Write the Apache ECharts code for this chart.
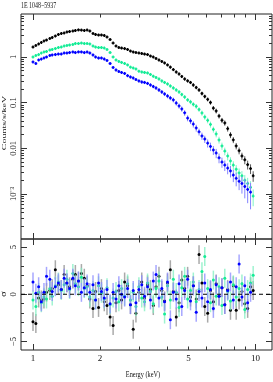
<!DOCTYPE html>
<html><head><meta charset="utf-8">
<script src="https://cdn.jsdelivr.net/npm/echarts@6/dist/echarts.min.js"></script>
<style>html,body{margin:0;padding:0;background:#fff}#c{width:273px;height:382px}</style>
</head><body><div id="c"></div>
<script>
// ---------------- data ----------------
const energy = [1.00,1.03,1.06,1.09,1.12,1.15,1.19,1.22,1.26,1.30,
  1.34,1.38,1.42,1.46,1.51,1.55,1.60,1.65,1.70,1.75,
  1.80,1.86,1.91,1.97,2.03,2.09,2.15,2.22,2.29,2.36,
  2.43,2.50,2.58,2.66,2.74,2.82,2.90,2.99,3.08,3.17,
  3.27,3.37,3.47,3.57,3.68,3.79,3.90,4.02,4.14,4.27,
  4.40,4.53,4.66,4.80,4.95,5.10,5.25,5.41,5.57,5.74,
  5.91,6.09,6.27,6.46,6.65,6.85,7.06,7.27,7.49,7.71,
  7.94,8.18,8.43,8.68,8.94,9.21,9.49,9.75];

const blackCounts = [1.65,1.79,1.93,2.08,2.24,2.35,2.54,2.67,2.88,3.11,
  3.27,3.35,3.52,3.61,3.70,3.80,3.92,3.88,3.80,3.90,
  3.70,3.27,3.11,3.03,3.03,2.96,2.74,2.41,2.02,1.74,
  1.61,1.57,1.53,1.46,1.35,1.29,1.25,1.22,1.19,1.16,
  1.13,1.05,1.00,0.93,0.86,0.80,0.74,0.67,0.60,0.53,
  0.47,0.425,0.375,0.33,0.30,0.277,0.244,0.215,0.19,0.159,
  0.137,0.118,0.101,0.076,0.066,0.051,0.041,0.036,0.027,0.0197,
  0.0153,0.0113,0.0089,0.0068,0.0056,0.0044,0.0036,0.0025];

const greenCounts = [1.00,1.08,1.13,1.22,1.29,1.32,1.42,1.46,1.53,1.61,
  1.65,1.74,1.79,1.83,1.88,1.97,1.97,2.02,1.97,1.97,
  1.93,1.74,1.65,1.61,1.61,1.57,1.46,1.25,1.00,0.86,
  0.80,0.76,0.72,0.67,0.60,0.574,0.547,0.49,0.47,0.458,
  0.447,0.415,0.38,0.356,0.33,0.30,0.277,0.257,0.232,0.21,
  0.19,0.172,0.151,0.133,0.115,0.104,0.092,0.083,0.071,0.0595,
  0.0488,0.041,0.0334,0.026,0.0207,0.0153,0.0113,0.0087,0.0068,0.0053,
  0.0043,0.0035,0.0029,0.0025,0.0020,0.0017,0.0014,0.0009];

const blueCounts = [0.78,0.72,0.86,0.90,0.95,1.00,1.08,1.11,1.13,1.16,
  1.16,1.22,1.22,1.25,1.29,1.25,1.29,1.29,1.25,1.29,
  1.22,1.11,1.00,0.95,0.95,0.90,0.84,0.72,0.59,0.52,
  0.48,0.458,0.436,0.39,0.365,0.347,0.32,0.30,0.284,0.277,
  0.264,0.244,0.226,0.21,0.19,0.172,0.155,0.14,0.127,0.115,
  0.098,0.085,0.073,0.06,0.046,0.040,0.034,0.028,0.023,0.0187,
  0.016,0.013,0.011,0.0092,0.0079,0.0062,0.005,0.0043,0.0037,0.0032,
  0.0026,0.0022,0.0019,0.0017,0.00146,0.00126,0.0011,null];

// relative (fractional) 1-sigma errors
const blackErr = [0.03,0.03,0.03,0.03,0.03,0.03,0.03,0.03,0.03,0.03,
  0.03,0.03,0.03,0.03,0.03,0.03,0.03,0.03,0.03,0.03,
  0.03,0.04,0.04,0.04,0.04,0.04,0.04,0.04,0.04,0.04,
  0.04,0.04,0.04,0.04,0.04,0.04,0.04,0.04,0.05,0.05,
  0.05,0.05,0.05,0.06,0.06,0.06,0.06,0.06,0.07,0.07,
  0.07,0.07,0.08,0.08,0.08,0.08,0.09,0.09,0.09,0.10,
  0.10,0.10,0.11,0.11,0.12,0.12,0.13,0.13,0.14,0.15,
  0.15,0.16,0.17,0.18,0.20,0.22,0.24,0.26];
const greenErr = [0.04,0.04,0.04,0.04,0.04,0.04,0.04,0.04,0.04,0.04,
  0.04,0.04,0.04,0.04,0.04,0.04,0.04,0.04,0.04,0.04,
  0.04,0.05,0.05,0.05,0.05,0.05,0.05,0.05,0.05,0.05,
  0.05,0.05,0.05,0.05,0.05,0.05,0.05,0.05,0.06,0.06,
  0.06,0.07,0.07,0.07,0.07,0.08,0.08,0.08,0.08,0.09,
  0.09,0.09,0.10,0.10,0.10,0.11,0.11,0.12,0.12,0.13,
  0.13,0.14,0.15,0.15,0.16,0.17,0.18,0.19,0.20,0.20,
  0.21,0.23,0.25,0.27,0.30,0.33,0.36,0.40];
const blueErr = [0.05,0.05,0.05,0.05,0.05,0.05,0.05,0.05,0.05,0.05,
  0.05,0.05,0.05,0.05,0.05,0.05,0.05,0.05,0.05,0.05,
  0.05,0.06,0.06,0.06,0.06,0.06,0.06,0.06,0.06,0.07,
  0.07,0.07,0.07,0.07,0.07,0.07,0.07,0.07,0.08,0.08,
  0.08,0.09,0.09,0.09,0.10,0.10,0.10,0.11,0.11,0.12,
  0.12,0.13,0.13,0.14,0.15,0.15,0.16,0.17,0.17,0.18,
  0.18,0.20,0.21,0.22,0.23,0.24,0.25,0.26,0.27,0.28,
  0.30,0.33,0.36,0.40,0.45,0.50,0.58,null];

// residuals (sigma)
const blackResid = [-2.9,-3.1,-0.4,-0.6,-0.5,0.2,0.4,0.6,2.6,1.0,
  0.5,2.1,1.2,0.8,1.6,2.1,1.4,2.2,1.7,0.9,
  -0.5,-1.5,0.3,-1.4,0.6,-0.8,-1.2,-2.4,-3.3,-0.9,
  0.4,-0.6,1.3,0.9,-1.1,-3.7,-2.0,0.2,1.3,-0.4,
  1.0,0.5,-1.2,0.8,1.9,0.4,-0.7,1.2,2.6,0.3,
  -2.4,-0.9,1.5,0.6,1.9,-0.3,0.9,-0.5,4.2,1.2,
  -1.3,-2.0,0.4,-0.8,1.1,-0.2,0.7,-1.1,0.5,-1.7,
  0.9,-1.7,-0.6,0.3,-1.0,-1.5,0.8,0.4];
const greenResid = [-0.6,-1.3,0.2,-0.9,-0.3,-0.5,0.6,-0.2,0.9,1.3,
  0.4,1.0,1.6,0.5,2.2,1.1,0.8,1.8,0.6,0.8,
  -0.3,0.4,-0.6,0.9,0.1,-0.5,0.7,-1.1,-0.4,0.3,
  -0.8,0.6,-0.2,1.1,-0.6,0.2,-1.3,0.8,-0.4,-0.8,
  1.2,0.3,-1.0,0.6,1.4,-0.3,-2.1,0.9,-0.6,1.6,
  0.2,-1.4,0.7,1.9,-0.5,0.4,1.3,-0.8,0.5,2.4,
  4.0,0.6,-0.9,1.5,-0.2,0.8,-1.2,1.7,0.3,-0.7,
  1.0,-0.3,0.6,1.1,-1.6,0.5,1.2,2.0];
const blueResid = [1.3,0.1,0.8,-0.8,0.2,1.9,1.6,0.3,0.8,1.2,
  0.5,1.7,1.2,0.6,1.7,0.9,1.4,0.2,0.7,1.1,
  0.2,1.0,-0.6,1.2,0.3,-0.4,0.5,-1.0,0.2,-0.5,
  0.9,0.0,-0.3,0.6,-1.1,0.4,-0.9,0.5,1.0,-0.2,
  0.8,-0.6,1.4,2.1,-0.4,0.6,-0.8,1.3,-2.7,0.2,
  -0.5,1.1,-1.3,0.4,1.6,-0.7,0.9,-1.9,0.3,-0.4,
  1.2,-0.8,0.5,-1.5,1.0,-0.2,0.7,-1.1,0.4,1.3,
  -0.6,0.8,3.2,-0.3,0.9,-0.9,0.2,null];

// ticks & labels
const xMajorTicks = [1, 10];
const xMinorTicks = [2, 3, 4, 5, 6, 7, 8, 9];
const xTickLabels = [1, 2, 5, 10];
const yTopMajorTicks = [0.001, 0.01, 0.1, 1];
const yTopTickLabels = ['10\u207B\u00B3', '0.01', '0.1', '1'];
const minorMultipliers = [2, 3, 4, 5, 6, 7, 8, 9];
const minorDecades = [1e-4, 1e-3, 1e-2, 0.1, 1];
const yBotMajorTicks = [-5, 0, 5];
const yBotMinorTicks = [-4, -3, -2, -1, 1, 2, 3, 4];
const yBotTickLabels = ['\u22125', '0', '5'];

// ---------------- build ----------------
const L = Math.log10;
const X_MIN = -0.0539, X_MAX = 1.0736;
const YT_MIN = -3.985, YT_MAX = 0.9415;
const YB_MIN = -5.9, YB_MAX = 5.85;
const FONT = 'Liberation Serif';
const TICK = '#333';

const yTopMinorTicks = [];
minorDecades.forEach(d => minorMultipliers.forEach(m => {
  const v = L(d * m); if (v > YT_MIN && v < YT_MAX) yTopMinorTicks.push(v);
}));

function xAx(grid, pos, vals, len, labelVals) {
  return {
    type: 'value', gridIndex: grid, position: pos, min: X_MIN, max: X_MAX,
    axisLine: {show: false, onZero: false}, splitLine: {show: false},
    axisTick: {show: true, inside: true, length: len, customValues: vals, lineStyle: {color: TICK, width: 1}},
    axisLabel: labelVals ? {
      show: true, customValues: labelVals, margin: 4, fontFamily: FONT, fontSize: 9, color: '#111',
      formatter: v => String(Math.round(Math.pow(10, v)))
    } : {show: false}
  };
}
function yAx(grid, pos, min, max, vals, len, labelVals, fmt) {
  return {
    type: 'value', gridIndex: grid, position: pos, min: min, max: max,
    axisLine: {show: false, onZero: false}, splitLine: {show: false},
    axisTick: {show: true, inside: true, length: len, customValues: vals, lineStyle: {color: TICK, width: 1}},
    axisLabel: labelVals ? {
      show: true, customValues: labelVals, rotate: 90, margin: 3, fontFamily: FONT, fontSize: 8.5, color: '#111',
      formatter: fmt
    } : {show: false}
  };
}

const xAxes = [];
[0, 1].forEach(g => {
  xAxes.push(xAx(g, 'bottom', xMajorTicks.map(L), 6, g === 1 ? xTickLabels.map(L) : null));
  xAxes.push(xAx(g, 'bottom', xMinorTicks.map(L), 3.5, null));
  xAxes.push(xAx(g, 'top', xMajorTicks.map(L), 6, null));
  xAxes.push(xAx(g, 'top', xMinorTicks.map(L), 3.5, null));
});
const topFmt = v => {
  const i = yTopMajorTicks.findIndex(t => Math.abs(L(t) - v) < 1e-6);
  return i >= 0 ? yTopTickLabels[i] : '';
};
const botFmt = v => {
  const i = yBotMajorTicks.findIndex(t => Math.abs(t - v) < 1e-6);
  return i >= 0 ? yBotTickLabels[i] : '';
};
const yAxes = [
  yAx(0, 'left', YT_MIN, YT_MAX, yTopMajorTicks.map(L), 6, yTopMajorTicks.map(L), topFmt),
  yAx(0, 'left', YT_MIN, YT_MAX, yTopMinorTicks, 3, null),
  yAx(0, 'right', YT_MIN, YT_MAX, yTopMajorTicks.map(L), 6, null),
  yAx(0, 'right', YT_MIN, YT_MAX, yTopMinorTicks, 3, null),
  yAx(1, 'left', YB_MIN, YB_MAX, yBotMajorTicks, 6, yBotMajorTicks, botFmt),
  yAx(1, 'left', YB_MIN, YB_MAX, yBotMinorTicks, 3, null),
  yAx(1, 'right', YB_MIN, YB_MAX, yBotMajorTicks, 6, null),
  yAx(1, 'right', YB_MIN, YB_MAX, yBotMinorTicks, 3, null)
];

function halfWidth(i) {
  const a = L(energy[Math.max(0, i - 1)]), b = L(energy[Math.min(energy.length - 1, i + 1)]);
  const n = (i === 0 || i === energy.length - 1) ? 2 : 4;
  return (b - a) / n;
}
function specData(vals, errs) {
  const out = [];
  vals.forEach((v, i) => {
    if (v == null) return;
    const f = errs[i];
    out.push([L(energy[i]), L(v), L(v * (1 - f)), L(v * (1 + f)), halfWidth(i)]);
  });
  return out;
}
function residData(vals) {
  const out = [];
  vals.forEach((r, i) => { if (r != null) out.push([L(energy[i]), r, r - 1, r + 1]); });
  return out;
}
function specRender(color, light) {
  return function (params, api) {
    const x = api.value(0), y = api.value(1), hw = api.value(4);
    const c = api.coord([x, y]);
    const lo = api.coord([x, api.value(2)]), hi = api.coord([x, api.value(3)]);
    const l = api.coord([x - hw, y]), r = api.coord([x + hw, y]);
    return {type: 'group', children: [
      {type: 'line', shape: {x1: c[0], y1: lo[1], x2: c[0], y2: hi[1]}, style: {stroke: light, lineWidth: 1}},
      {type: 'line', shape: {x1: l[0], y1: c[1], x2: r[0], y2: c[1]}, style: {stroke: color, lineWidth: 1.5}},
      {type: 'line', shape: {x1: c[0], y1: c[1] - 1.5, x2: c[0], y2: c[1] + 1.5}, style: {stroke: color, lineWidth: 1.4}}
    ]};
  };
}
function residRender(color, light) {
  return function (params, api) {
    const x = api.value(0), y = api.value(1);
    const c = api.coord([x, y]);
    const lo = api.coord([x, api.value(2)]), hi = api.coord([x, api.value(3)]);
    return {type: 'group', children: [
      {type: 'line', shape: {x1: c[0], y1: lo[1], x2: c[0], y2: hi[1]}, style: {stroke: light, lineWidth: 1.5, opacity: 0.75}},
      {type: 'circle', shape: {cx: c[0], cy: c[1], r: 1.5}, style: {fill: color}}
    ]};
  };
}

const sets = [
  {name: 'black', counts: blackCounts, err: blackErr, resid: blackResid, color: '#000000', light: '#555555', rlight: '#8c8c8c'},
  {name: 'green', counts: greenCounts, err: greenErr, resid: greenResid, color: '#14ec96', light: '#7ff5c6', rlight: '#7fefc0'},
  {name: 'blue', counts: blueCounts, err: blueErr, resid: blueResid, color: '#0000ff', light: '#8383ff', rlight: '#8a8aff'}
];
const series = [];
sets.forEach(s => {
  series.push({type: 'custom', name: s.name, xAxisIndex: 0, yAxisIndex: 0, clip: true,
    renderItem: specRender(s.color, s.light), data: specData(s.counts, s.err), silent: true});
});
sets.forEach(s => {
  series.push({type: 'custom', name: s.name + ' resid', xAxisIndex: 4, yAxisIndex: 4, clip: true,
    renderItem: residRender(s.color, s.rlight), data: residData(s.resid), silent: true});
});
series.push({type: 'line', xAxisIndex: 4, yAxisIndex: 4, data: [[X_MIN, 0], [X_MAX, 0]], symbol: 'none',
  lineStyle: {color: '#000', width: 1, type: [4, 3]}, silent: true, z: 5});

const chart = echarts.init(document.getElementById('c'), null, {renderer: 'canvas'});
chart.setOption({
  animation: false,
  backgroundColor: '#fff',
  grid: [
    {left: 21, top: 14, width: 251, height: 225, show: true, borderColor: '#222', borderWidth: 1, backgroundColor: 'transparent'},
    {left: 21, top: 239, width: 251, height: 111, show: true, borderColor: '#222', borderWidth: 1, backgroundColor: 'transparent'}
  ],
  xAxis: xAxes,
  yAxis: yAxes,
  series: series,
  graphic: [
    {type: 'text', x: 21, y: 1, scaleX: 0.66, style: {text: '1E 1048\u22125937', font: '9px "Liberation Serif"', fill: '#111', verticalAlign: 'top'}},
    {type: 'text', x: 143, y: 375, scaleX: 0.7, style: {text: 'Energy (keV)', font: '9px "Liberation Serif"', fill: '#111', align: 'center', verticalAlign: 'middle'}},
    {type: 'text', x: 4, y: 123, rotation: Math.PI / 2, scaleY: 0.7, style: {text: 'Counts/s/keV', font: '10px "Liberation Serif"', fill: '#111', align: 'center', verticalAlign: 'middle'}},
    {type: 'text', x: 4, y: 294, rotation: Math.PI / 2, scaleY: 0.75, style: {text: '\u03C3', font: '10px "Liberation Serif"', fill: '#111', align: 'center', verticalAlign: 'middle'}}
  ]
});
</script>
</body></html>
